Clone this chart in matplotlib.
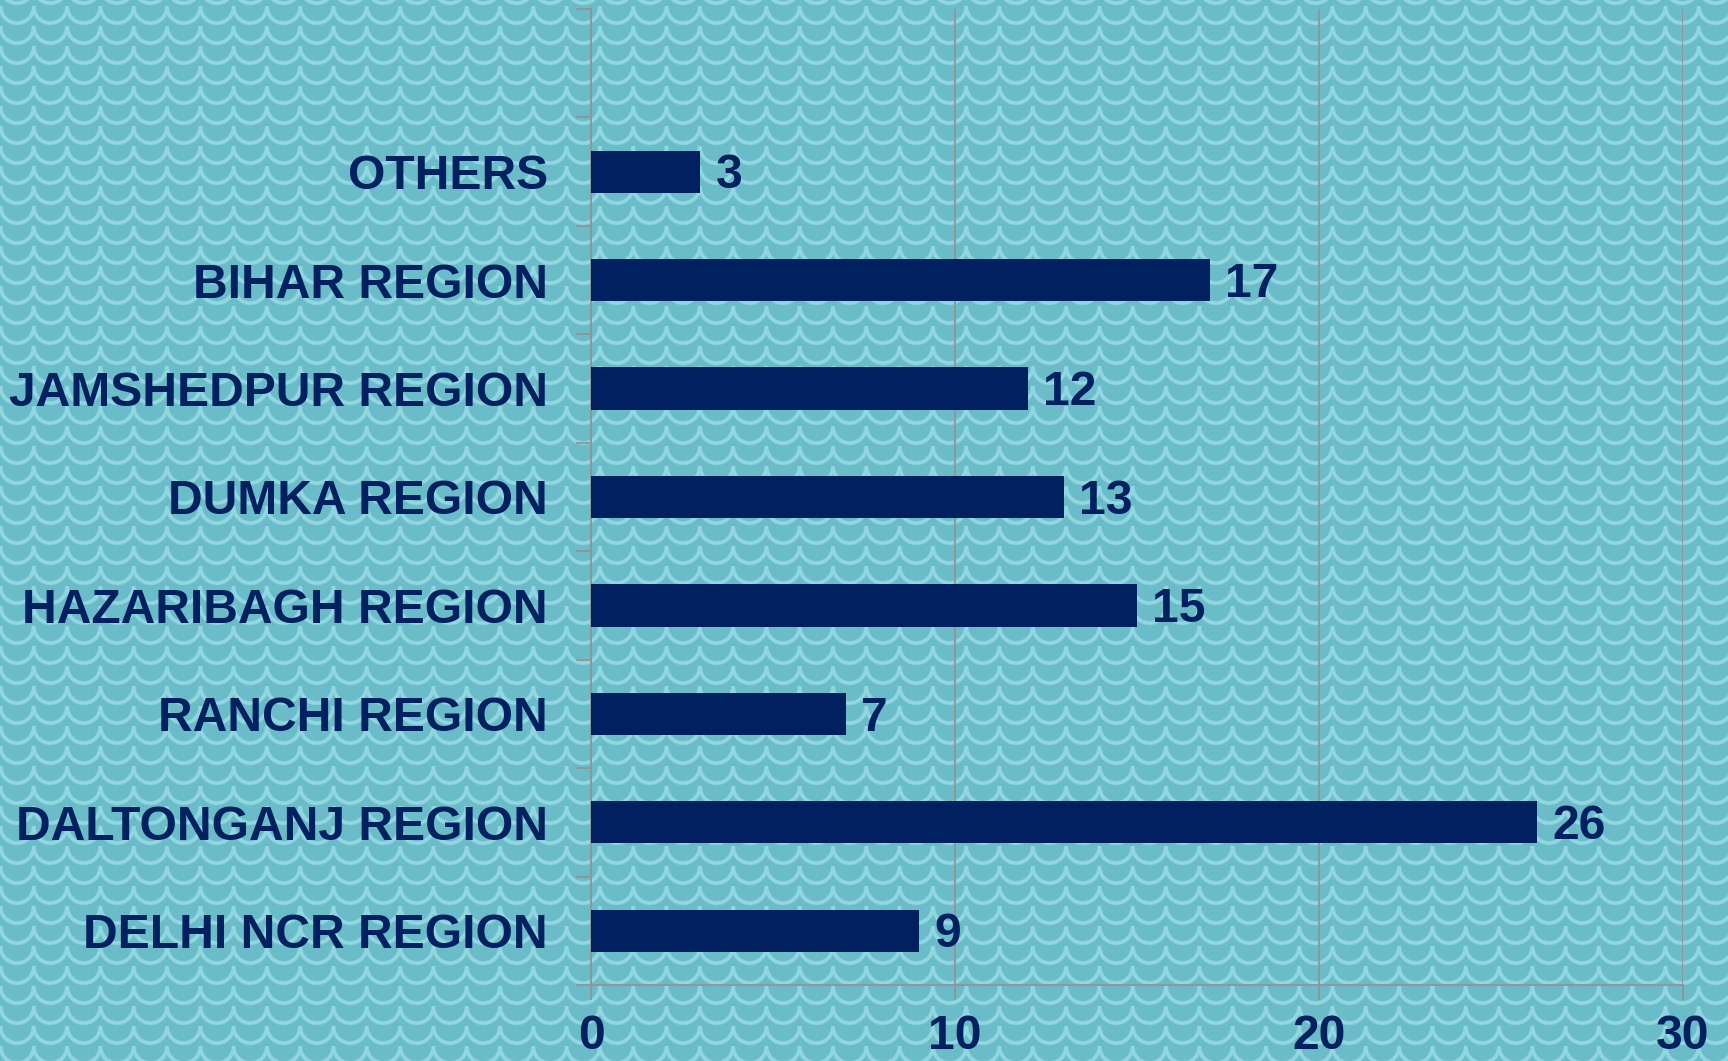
import numpy as np
import matplotlib
matplotlib.use("Agg")
import matplotlib.pyplot as plt
from matplotlib.ticker import FixedLocator

categories = ["DELHI NCR REGION", "DALTONGANJ REGION", "RANCHI REGION",
              "HAZARIBAGH REGION", "DUMKA REGION", "JAMSHEDPUR REGION",
              "BIHAR REGION", "OTHERS"]
values = [9, 26, 7, 15, 13, 12, 17, 3]
x_ticks = [0, 10, 20, 30]

W, H = 1728, 1061
DPI = 100
NAVY = "#002060"
GREY = "#949494"
FS = 34.6

plt.rcParams["font.family"] = ["Liberation Sans", "DejaVu Sans"]

fig = plt.figure(figsize=(W / DPI, H / DPI), dpi=DPI)

# --- scalloped teal background texture ---
yy, xx = np.mgrid[0:H, 0:W].astype(float)
P, S, r = 33.3, 20.0, 16.6
base = np.array([106, 189, 200]) / 255.0
light = np.array([150, 217, 228]) / 255.0
alpha = np.zeros((H, W))
cx = (np.floor(xx / P) + 0.5) * P
for k in range(-1, 2):
    cy = (np.floor(yy / S) + k) * S + 6
    d = np.sqrt((xx - cx) ** 2 + (yy - cy) ** 2)
    dist = np.abs(d - r)
    a = np.clip(1.0 - (dist - 1.2) / 1.4, 0, 1)
    a[yy < cy] = 0
    alpha = np.maximum(alpha, a)
img = base[None, None, :] * (1 - alpha[..., None] * 0.9) + light[None, None, :] * (alpha[..., None] * 0.9)
bg = fig.figimage(img, 0, 0, origin="upper")
bg.set_zorder(-10)
fig.patch.set_facecolor(base)

ax = fig.add_axes([591 / W, 1 - 985 / H, (1683 - 591) / W, (985 - 9) / H])
ax.set_zorder(5)
ax.patch.set_alpha(0)

ypos = np.arange(len(categories))
bars = ax.barh(ypos, values, height=0.39, color=NAVY, zorder=3)
for y, v in zip(ypos, values):
    ax.annotate(str(v), xy=(v, y), xytext=(11, -3), textcoords="offset points",
                ha="left", va="center", fontsize=FS, fontweight="bold", color=NAVY)

ax.set_xlim(0, 30)
ax.set_ylim(-0.5, len(categories) + 0.5)
ax.set_xticks(x_ticks)
ax.set_xticklabels([str(t) for t in x_ticks], fontsize=FS, fontweight="bold", color=NAVY)
ax.tick_params(axis="x", length=11, width=1.3, color=GREY, pad=10)
ax.set_yticks(ypos)
ax.set_yticklabels(categories, fontsize=FS, fontweight="bold", color=NAVY)
ax.tick_params(axis="y", which="major", length=0, pad=31)
ax.yaxis.set_minor_locator(FixedLocator(np.arange(-0.5, len(categories) + 1, 1.0)))
ax.tick_params(axis="y", which="minor", length=11, width=1.3, color=GREY)

ax.grid(axis="x", color=GREY, linewidth=1.3, zorder=1)
ax.set_axisbelow(True)
for s in ["top", "right"]:
    ax.spines[s].set_visible(False)
for s in ["left", "bottom"]:
    ax.spines[s].set_color(GREY)
    ax.spines[s].set_linewidth(1.3)

fig.savefig("out.png", dpi=DPI)
